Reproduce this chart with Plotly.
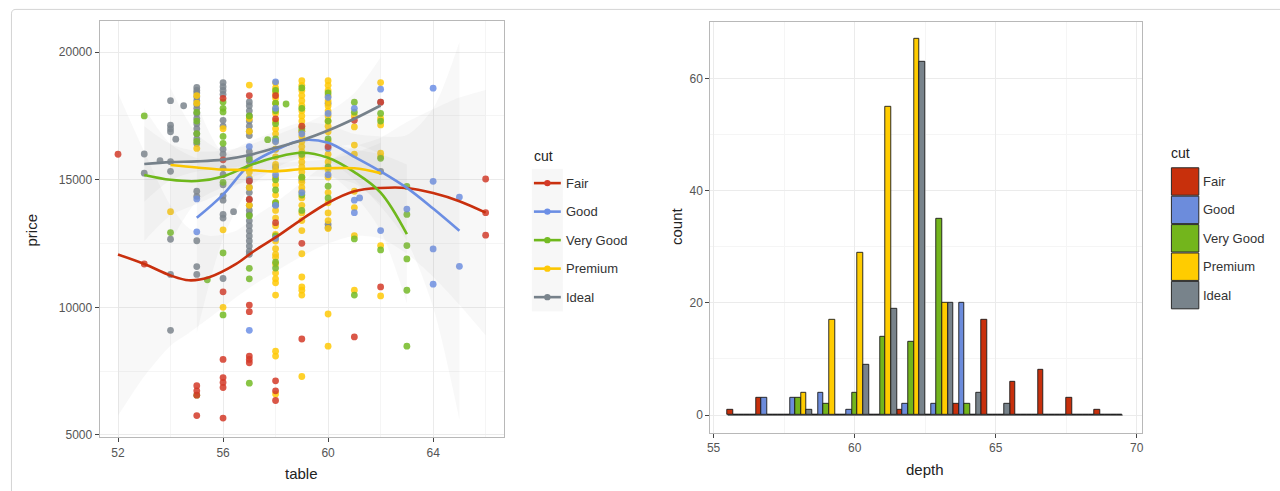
import plotly.graph_objects as go

W, H = 1280, 491

cut_names = ["Fair", "Good", "Very Good", "Premium", "Ideal"]
point_colors = ["#D43A28", "#6C8FE6", "#74BB24", "#FFC906", "#7B858D"]
line_colors = ["#C9300E", "#6B8EE3", "#6FB81C", "#FBC600", "#76818A"]
fill_colors = ["#C8300C", "#6C8CDC", "#73B51C", "#FFCC00", "#78838B"]

# ---------------- scatter data (table vs price) ----------------
fair_table = [52, 53, 55, 55, 55, 55,
              56, 56, 56, 56, 56, 56, 56, 56,
              57, 57, 57, 57, 57, 57, 57, 57,
              58, 58, 58, 58, 58, 58,
              59, 59, 59, 60, 61, 61, 62, 62, 66, 66, 66]
fair_price = [16000, 11700, 6930, 6730, 6560, 5760,
              18190, 15780, 10610, 7960, 7250, 7060, 6860, 5660,
              18300, 14950, 14230, 10090, 9830, 8090, 7960, 7830,
              18300, 17390, 13320, 7120, 6730, 6350,
              17100, 12510, 8760, 16300, 17330, 8840, 18040, 10800, 15030, 13710, 12830]

good_table = [55, 55, 57, 57, 57, 58, 58, 58, 58, 58, 58, 59, 59,
              60, 60, 60, 60, 61, 61, 61, 61.2, 62, 62, 63,
              64, 64, 64, 64, 65, 65]
good_price = [14250, 12960, 16300, 15000, 9100, 18840, 17800, 16500, 15200, 14000, 12700, 16800, 14500,
              18230, 17600, 16230, 15200, 17800, 14200, 13710, 14290, 18550, 13010, 13850,
              18590, 14940, 12290, 10910, 14320, 11610]

vgood_table = [53, 54, 55, 55, 55, 55, 55, 55.4,
               56, 56, 56, 56, 56, 56, 56, 56,
               57, 57, 57, 57, 57, 57, 57.7,
               58, 58, 58, 58, 58, 58, 58, 58, 58, 58, 58, 58.4,
               59, 59, 59, 59, 59, 59, 59,
               60, 60, 60, 60, 60, 60,
               61, 61, 61, 61, 62, 62, 62, 62,
               63, 63, 63, 63, 63, 63]
vgood_price = [17500, 12930, 17650, 17300, 16810, 16500, 6560, 11080,
               18050, 17800, 17660, 16700, 16430, 14900, 12130, 9705,
               17500, 15800, 13590, 11530, 11120, 7030, 16570,
               18500, 18000, 17700, 17200, 16600, 15000, 14600, 14100, 12800, 11770, 11540, 17970,
               18600, 17800, 17000, 16000, 15100, 14400, 13800,
               18400, 17300, 16600, 15500, 14750, 14290,
               18040, 17650, 12680, 10480, 17600, 17300, 15840, 12250,
               14740, 13640, 12420, 11900, 10670, 8480]

premium_table = [54, 55, 55, 55, 56, 56, 56,
                 57, 57, 57, 57, 57, 57, 57, 57,
                 58, 58, 58, 58, 58, 58, 58, 58, 58, 58, 58, 58, 58, 58, 58, 58, 58, 58,
                 58, 58, 58, 58, 58, 58, 58, 58, 58, 58, 58, 58, 58, 58, 58, 58, 58,
                 59, 59, 59, 59, 59, 59, 59, 59, 59, 59, 59, 59, 59, 59, 59, 59, 59,
                 59, 59, 59, 59, 59, 59, 59, 59, 59, 59, 59, 59, 59, 59, 59, 59, 59,
                 60, 60, 60, 60, 60, 60, 60, 60, 60, 60, 60, 60,
                 60, 60, 60, 60, 60, 60, 60, 60, 60, 60, 60,
                 61, 61, 61, 61, 61, 61, 61, 61,
                 62, 62, 62, 62, 62, 62, 62]
premium_price = [13750, 18300, 18000, 16230, 17000, 13040, 10000,
                 18710, 17400, 16900, 15500, 15300, 15060, 14700, 14000,
                 18800, 18600, 18400, 18200, 18000, 17800, 17600, 17300, 17000, 16800, 16500, 16200, 15900, 15600, 15400, 15100, 14800, 14400,
                 14100, 13800, 13500, 13200, 12860, 12600, 12300, 12080, 11960, 11700, 11350, 11120, 10960, 10480, 8280, 8090, 6600,
                 18880, 18700, 18500, 18300, 18100, 17900, 17700, 17500, 17300, 17100, 16900, 16700, 16500, 16300, 16100, 15900, 15700,
                 15500, 15300, 15100, 14900, 14700, 14550, 14290, 14000, 13700, 13400, 13010, 12100, 11190, 10800, 10670, 10480, 7290,
                 18880, 18700, 18500, 18300, 18100, 17900, 17700, 17500, 17300, 17100, 16880, 16500,
                 16000, 15700, 15400, 15100, 14500, 14100, 13700, 13400, 13090, 9740, 8480,
                 17500, 17070, 16360, 16000, 14550, 13910, 12810, 10670,
                 18810, 17400, 17150, 16040, 15900, 12420, 10450]

ideal_table = [53, 53, 53.6, 54, 54, 54, 54, 54, 54, 54, 54, 54, 54.2, 54.5,
               55, 55, 55, 55, 55, 55, 55, 55, 55, 55, 55, 55, 55, 55, 55, 55, 55, 55, 55,
               56, 56, 56, 56, 56, 56, 56, 56, 56, 56, 56, 56, 56, 56, 56, 56, 56.4,
               57, 57, 57, 57, 57, 57, 57, 57, 57, 57, 57, 57, 57,
               57, 57, 57, 57, 57, 57, 57, 57, 57, 57, 57, 57, 57,
               58, 58, 58, 59, 59, 60, 60, 60, 62, 62]
ideal_price = [16010, 15260, 15750, 18100, 17140, 17000, 16880, 15710, 15330, 12670, 11290, 9100, 16590, 17900,
               18620, 18500, 18400, 18250, 18100, 17950, 17800, 17600, 17400, 17200, 17000, 16800, 16600, 16420, 14550, 14350, 12610, 11600, 11290,
               18810, 18650, 18500, 18350, 17330, 17100, 16200, 16000, 15450, 15200, 14800, 14370, 14200, 13640, 13500, 11130, 13750,
               18050, 17900, 17700, 17500, 17300, 17100, 16900, 16730, 16100, 15900, 15730, 14950, 14700,
               14500, 14230, 14000, 13800, 13630, 13390, 13200, 13000, 12800, 12600, 12400, 12200, 12080,
               16200, 15500, 14000, 16900, 15000, 18000, 13260, 13130, 18040, 15330]

# ---------------- smooth curves ----------------
fair_sx = [52, 53, 54, 54.7, 55.5, 56.5, 57.2, 58, 59, 60, 61, 62, 63, 64, 65, 66]
fair_sy = [12070, 11700, 11250, 11060, 11190, 11700, 12220, 12740, 13450, 14100, 14550, 14680, 14680, 14480, 14160, 13710]
fair_lo = [5750, 7300, 8500, 9000, 9600, 10400, 10900, 11400, 12000, 12500, 12800, 12700, 12100, 11200, 10100, 8900]
fair_hi = [18390, 16100, 14000, 13100, 12800, 13000, 13550, 14100, 14900, 15700, 16300, 16650, 17260, 17760, 18220, 18520]

good_sx = [55, 56, 57, 58, 59, 60, 61, 62, 63, 64, 65]
good_sy = [13510, 14420, 15580, 16160, 16550, 16450, 15900, 15330, 14680, 13870, 13000]
good_lo = [9000, 12700, 14650, 15450, 15850, 15750, 15000, 13950, 12600, 10000, 5600]
good_hi = [18000, 16100, 16500, 16900, 17250, 17150, 16800, 16700, 16750, 17800, 20400]

vgood_sx = [53, 54, 55, 56, 57, 58, 59, 60, 61, 62, 63]
vgood_sy = [15190, 15000, 14950, 15130, 15560, 15880, 16060, 15860, 15300, 14500, 12870]
vgood_lo = [12600, 13600, 14050, 14500, 15050, 15400, 15550, 15250, 14400, 13000, 10150]
vgood_hi = [17800, 16400, 15850, 15750, 16050, 16350, 16550, 16450, 16200, 16000, 15600]

premium_sx = [54, 55, 56, 57, 58, 59, 60, 61, 62]
premium_sy = [15580, 15480, 15400, 15380, 15330, 15420, 15450, 15450, 15260]
premium_lo = [12560, 14150, 14700, 14900, 14980, 15120, 15100, 14850, 14060]
premium_hi = [18600, 16800, 16100, 15850, 15680, 15720, 15800, 16050, 16450]

ideal_sx = [53, 54, 55, 56, 57, 58, 59, 60, 61, 62]
ideal_sy = [15620, 15690, 15720, 15790, 15970, 16250, 16550, 16930, 17390, 17910]
ideal_lo = [14140, 14980, 15320, 15440, 15570, 15750, 15950, 16210, 16380, 16010]
ideal_hi = [17100, 16400, 16120, 16140, 16370, 16750, 17150, 17650, 18400, 19800]

# ---------------- histogram (depth) ----------------
bin_width = 1.0
bin_centers = [56, 57, 58, 59, 60, 61, 62, 63, 64, 65, 66, 67, 68, 69]
hist_fair = [1, 3, 0, 0, 0, 0, 1, 0, 2, 17, 6, 8, 3, 1]
hist_good = [0, 3, 3, 4, 1, 0, 2, 2, 20, 0, 0, 0, 0, 0]
hist_vgood = [0, 0, 3, 2, 4, 14, 13, 35, 2, 0, 0, 0, 0, 0]
hist_premium = [0, 0, 4, 17, 29, 55, 67, 20, 0, 0, 0, 0, 0, 0]
hist_ideal = [0, 0, 1, 0, 9, 19, 63, 20, 4, 2, 0, 0, 0, 0]

# tick labels
left_xticks = [52, 56, 60, 64]
left_yticks = [5000, 10000, 15000, 20000]
right_xticks = [55, 60, 65, 70]
right_yticks = [0, 20, 40, 60]

tables = [fair_table, good_table, vgood_table, premium_table, ideal_table]
prices = [fair_price, good_price, vgood_price, premium_price, ideal_price]
smooth = [(fair_sx, fair_sy, fair_lo, fair_hi), (good_sx, good_sy, good_lo, good_hi),
          (vgood_sx, vgood_sy, vgood_lo, vgood_hi), (premium_sx, premium_sy, premium_lo, premium_hi),
          (ideal_sx, ideal_sy, ideal_lo, ideal_hi)]
hists = [hist_fair, hist_good, hist_vgood, hist_premium, hist_ideal]


def fx(p):
    return p / W


def fy(p):
    return 1 - p / H


fig = go.Figure()

# points (Ideal first so the other colours show on top)
for i in [4, 3, 2, 1, 0]:
    fig.add_trace(go.Scatter(x=tables[i], y=prices[i], mode="markers",
                             marker=dict(size=6.8, color=point_colors[i], opacity=0.85, line=dict(width=0)),
                             showlegend=False, hoverinfo="skip", xaxis="x", yaxis="y"))

# confidence ribbons
for i in range(5):
    sx, sy, lo, hi = smooth[i]
    fig.add_trace(go.Scatter(x=sx, y=lo, mode="lines", line=dict(width=0, shape="spline", smoothing=0.8),
                             showlegend=False, hoverinfo="skip", xaxis="x", yaxis="y"))
    fig.add_trace(go.Scatter(x=sx, y=hi, mode="lines", line=dict(width=0, shape="spline", smoothing=0.8),
                             fill="tonexty", fillcolor="rgba(150,150,150,0.065)",
                             showlegend=False, hoverinfo="skip", xaxis="x", yaxis="y"))

# smooth lines
for i in range(5):
    sx, sy, lo, hi = smooth[i]
    fig.add_trace(go.Scatter(x=sx, y=sy, mode="lines",
                             line=dict(color=line_colors[i], width=2.6, shape="spline", smoothing=1.0),
                             showlegend=False, hoverinfo="skip", xaxis="x", yaxis="y"))

# histogram bars
for i in range(5):
    fig.add_trace(go.Bar(x=bin_centers, y=hists[i], name=cut_names[i],
                         marker=dict(color=fill_colors[i], line=dict(color="#1a1a1a", width=0.9)),
                         showlegend=False, hoverinfo="skip", xaxis="x2", yaxis="y2"))
# zero-count bar outlines form a baseline
fig.add_trace(go.Scatter(x=[bin_centers[0] - bin_width / 2, bin_centers[-1] + bin_width / 2], y=[0, 0],
                         mode="lines", line=dict(color="#1a1a1a", width=1),
                         showlegend=False, hoverinfo="skip", xaxis="x2", yaxis="y2"))

tickfont = dict(family="Liberation Sans, Arial, sans-serif", size=12, color="#555555")
axis_common = dict(ticks="outside", ticklen=4, tickwidth=1, tickcolor="#444444",
                   showgrid=True, gridcolor="#EBEBEB", gridwidth=1,
                   showline=True, mirror=True, linecolor="#B8B8B8", linewidth=1,
                   zeroline=False, tickfont=tickfont, tickmode="array", fixedrange=True)
minor_common = dict(showgrid=True, gridcolor="#F5F5F5", gridwidth=1, ticks="")

fig.update_layout(
    width=W, height=H, autosize=False,
    margin=dict(l=0, r=0, t=0, b=0, pad=0),
    paper_bgcolor="white", plot_bgcolor="white",
    barmode="group", bargap=0, bargroupgap=0,
    showlegend=False,
    xaxis=dict(domain=[fx(97), fx(503)], range=[51.3, 66.7], tickvals=left_xticks,
               minor=dict(tickvals=[54, 58, 62, 66], **minor_common), anchor="y", **axis_common),
    yaxis=dict(domain=[fy(442), fy(21)], range=[4900, 21230], tickvals=left_yticks, tickformat="d",
               minor=dict(tickvals=[7500, 12500, 17500], **minor_common), anchor="x", **axis_common),
    xaxis2=dict(domain=[fx(710), fx(1143)], range=[54.88, 70.17], tickvals=right_xticks,
                minor=dict(tickvals=[57.5, 62.5, 67.5], **minor_common), anchor="y2", **axis_common),
    yaxis2=dict(domain=[fy(437), fy(22)], range=[-3.12, 70.1], tickvals=right_yticks,
                minor=dict(tickvals=[10, 30, 50, 70], **minor_common), anchor="x2", **axis_common),
)

shapes = []
annotations = []
title_font = dict(family="Liberation Sans, Arial, sans-serif", size=15, color="#222222")
legend_font = dict(family="Liberation Sans, Arial, sans-serif", size=13, color="#333333")

# outer frame
shapes.append(dict(type="path", xref="paper", yref="paper",
                   path="M {},{} L {},{} Q {},{} {},{} L {},{} L {},{} L {},{} Q {},{} {},{} Z".format(
                       fx(8.5), fy(560), fx(8.5), fy(14), fx(8.5), fy(9.5), fx(13), fy(9.5),
                       fx(1320), fy(9.5), fx(1320), fy(560), fx(1320), fy(560),
                       fx(8.5), fy(560), fx(8.5), fy(560)),
                   line=dict(color="#D4D4D4", width=1), fillcolor="rgba(0,0,0,0)", layer="below"))

# axis titles
annotations.append(dict(text="table", x=fx(300), y=fy(478), xref="paper", yref="paper",
                        showarrow=False, font=title_font, xanchor="center", yanchor="middle"))
annotations.append(dict(text="price", x=fx(29), y=fy(232), xref="paper", yref="paper",
                        showarrow=False, font=title_font, textangle=-90, xanchor="center", yanchor="middle"))
annotations.append(dict(text="depth", x=fx(926), y=fy(474), xref="paper", yref="paper",
                        showarrow=False, font=title_font, xanchor="center", yanchor="middle"))
annotations.append(dict(text="count", x=fx(676), y=fy(228), xref="paper", yref="paper",
                        showarrow=False, font=title_font, textangle=-90, xanchor="center", yanchor="middle"))

# left legend (line + point keys)
annotations.append(dict(text="cut", x=fx(531), y=fy(158), xref="paper", yref="paper", showarrow=False,
                        font=dict(family="Liberation Sans, Arial, sans-serif", size=14, color="#222222"),
                        xanchor="left", yanchor="middle"))
for i in range(5):
    yc = 185 + i * 28.8
    shapes.append(dict(type="rect", xref="paper", yref="paper", x0=fx(531), x1=fx(562),
                       y0=fy(yc + 14.4), y1=fy(yc - 14.4), line=dict(width=0),
                       fillcolor="rgba(150,150,150,0.08)"))
    shapes.append(dict(type="line", xref="paper", yref="paper", x0=fx(533), x1=fx(560), y0=fy(yc), y1=fy(yc),
                       line=dict(color=line_colors[i], width=2.6)))
    shapes.append(dict(type="circle", xref="paper", yref="paper", x0=fx(543.3), x1=fx(549.7),
                       y0=fy(yc + 3.2), y1=fy(yc - 3.2), line=dict(width=0), fillcolor=point_colors[i]))
    annotations.append(dict(text=cut_names[i], x=fx(563), y=fy(yc), xref="paper", yref="paper",
                            showarrow=False, font=legend_font, xanchor="left", yanchor="middle"))

# right legend (filled keys)
annotations.append(dict(text="cut", x=fx(1171), y=fy(155), xref="paper", yref="paper", showarrow=False,
                        font=dict(family="Liberation Sans, Arial, sans-serif", size=14, color="#222222"),
                        xanchor="left", yanchor="middle"))
for i in range(5):
    y0 = 169 + i * 28.7
    shapes.append(dict(type="rect", xref="paper", yref="paper", x0=fx(1173), x1=fx(1200.5),
                       y0=fy(y0 + 28.2), y1=fy(y0 + 0.5), line=dict(color="#2a2a2a", width=1),
                       fillcolor=fill_colors[i]))
    annotations.append(dict(text=cut_names[i], x=fx(1203), y=fy(y0 + 14.3), xref="paper", yref="paper",
                            showarrow=False, font=legend_font, xanchor="left", yanchor="middle"))

fig.update_layout(shapes=shapes, annotations=annotations)

fig.write_html("out.html")
